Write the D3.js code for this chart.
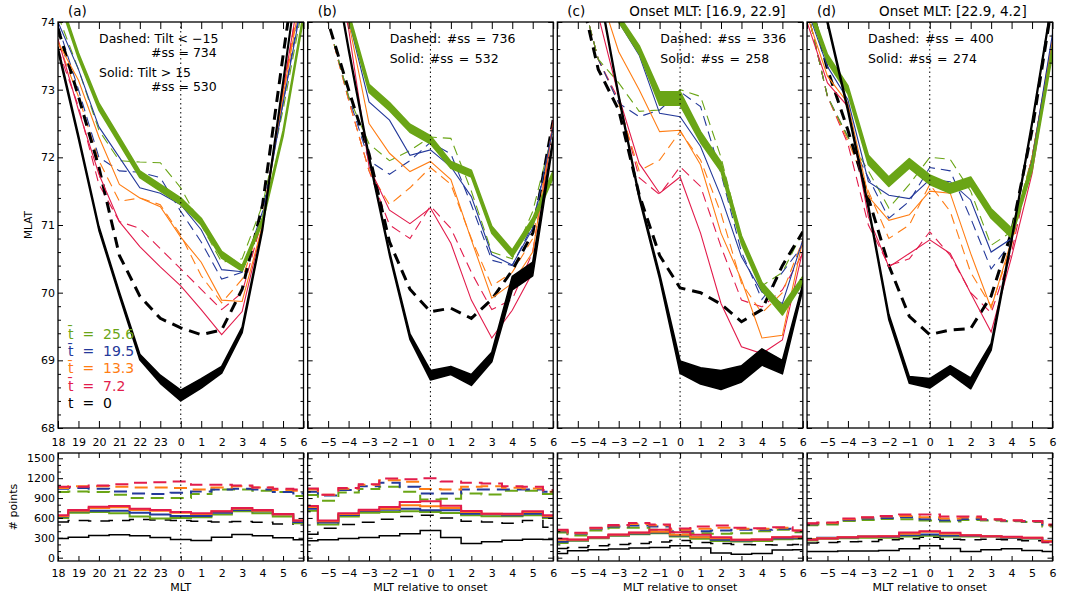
<!DOCTYPE html>
<html>
<head>
<meta charset="utf-8">
<script src="https://cdn.jsdelivr.net/npm/d3@7"></script>
<style>
  body { margin: 0; background: #fff; }
  text { font-family: "DejaVu Sans", sans-serif; fill: #000; }
</style>
</head>
<body>
<svg id="chart" width="1070" height="602"></svg>
<script>
// ---- data ----
// hour positions (MLT for panel a = 18..6, MLT relative to onset for b-d)
const hours = [-6, -5, -4, -3, -2, -1, 0, 1, 2, 3, 4, 5, 6];
const mltLabels = ['18', '19', '20', '21', '22', '23', '0', '1', '2', '3', '4', '5', '6'];
// time levels, order used by every series below: t=0, 7.2, 13.3, 19.5, 25.6
const tLabels = ['0', '7.2', '13.3', '19.5', '25.6'];
const panelTags = ['(a)', '(b)', '(c)', '(d)'];
const onsetTitles = ['', '', 'Onset MLT: [16.9, 22.9]', 'Onset MLT: [22.9, 4.2]'];
const notesA = ['Dashed: Tilt < \u221215', '#ss = 734', 'Solid: Tilt > 15', '#ss = 530'];
const notesB = ['Dashed: #ss = 736', 'Solid: #ss = 532'];
const notesC = ['Dashed: #ss = 336', 'Solid: #ss = 258'];
const notesD = ['Dashed: #ss = 400', 'Solid: #ss = 274'];

// MLAT of boundary, solid = tilt > 15 / solid, dashed = tilt < -15 / dashed
const latSolidA = [
  [73.6, 72.3, 70.95, 69.98, 69.05, 68.72, 68.48, 68.66, 68.86, 69.45, 70.95, 73.1, 75.3],
  [73.75, 72.7, 71.75, 71.05, 70.68, 70.38, 70.1, 69.75, 69.38, 69.72, 71.0, 73.0, 74.8],
  [73.7, 73.14, 72.3, 71.6, 71.4, 71.27, 70.82, 70.45, 69.89, 69.87, 71.0, 72.9, 74.6],
  [74.0, 73.3, 72.45, 72.0, 71.55, 71.47, 71.3, 70.93, 70.34, 70.31, 71.1, 72.8, 74.4],
  [74.4, 73.5, 72.75, 72.25, 71.75, 71.55, 71.35, 71.05, 70.56, 70.36, 71.07, 72.35, 74.1]
];
const latDashA = [
  [73.9, 72.9, 71.85, 70.55, 69.95, 69.62, 69.48, 69.38, 69.45, 70.05, 71.3, 73.5, 75.6],
  [73.6, 72.75, 71.6, 71.05, 70.95, 70.65, 70.35, 70.05, 69.75, 70.0, 71.1, 72.95, 74.8],
  [73.7, 72.9, 71.95, 71.35, 71.4, 71.3, 70.85, 70.25, 69.85, 70.2, 71.1, 72.9, 74.7],
  [73.95, 73.0, 72.0, 71.8, 71.78, 71.7, 71.2, 70.75, 70.2, 70.3, 71.2, 72.8, 74.5],
  [74.1, 73.3, 72.4, 71.95, 71.93, 71.92, 71.55, 71.0, 70.45, 70.5, 71.3, 72.7, 74.3]
];
const errBlackA = [0.03, 0.03, 0.03, 0.03, 0.04, 0.06, 0.08, 0.07, 0.05, 0.04, 0.03, 0.03, 0.03];
const errGreenA = [0.04, 0.04, 0.05, 0.05, 0.05, 0.05, 0.05, 0.05, 0.05, 0.04, 0.04, 0.04, 0.04];

const latSolidB = [
  [77, 75.3, 73.6, 72.0, 70.58, 69.35, 68.78, 68.85, 68.71, 69.05, 70.14, 70.35, 72.26],
  [77, 75.3, 73.9, 71.86, 71.22, 71.02, 71.25, 70.73, 69.89, 69.33, 69.74, 70.3, 72.55],
  [77, 75.3, 74.0, 72.5, 72.06, 71.79, 71.94, 71.67, 70.78, 69.92, 70.14, 70.6, 72.5],
  [77, 75.4, 74.05, 72.82, 72.55, 72.03, 72.11, 71.86, 71.42, 70.56, 70.41, 70.95, 72.45],
  [77, 75.5, 74.1, 73.02, 72.75, 72.43, 72.26, 71.89, 71.76, 70.93, 70.58, 71.05, 71.75]
];
const latDashB = [
  [76, 74.0, 73.0, 72.05, 70.75, 70.05, 69.72, 69.77, 69.62, 69.9, 70.33, 70.88, 72.55],
  [76, 74.0, 72.85, 71.8, 71.0, 70.8, 71.28, 70.95, 70.3, 69.75, 69.9, 70.6, 72.5],
  [76, 74.0, 72.85, 71.8, 71.3, 71.55, 71.85, 71.6, 70.8, 70.1, 70.3, 70.8, 72.5],
  [76, 74.0, 72.9, 71.95, 71.75, 71.95, 72.22, 72.05, 71.3, 70.48, 70.4, 71.0, 72.45],
  [76, 74.0, 72.9, 72.2, 71.95, 72.1, 72.3, 72.28, 71.5, 70.6, 70.5, 71.2, 72.4]
];
const errBlackB = [0.03, 0.03, 0.03, 0.03, 0.03, 0.04, 0.07, 0.06, 0.08, 0.07, 0.1, 0.1, 0.04];
const errGreenB = [0.05, 0.05, 0.05, 0.06, 0.06, 0.06, 0.06, 0.05, 0.05, 0.05, 0.05, 0.05, 0.05];

const latSolidC = [
  [77, 75.8, 74.55, 72.9, 71.42, 70.24, 68.9, 68.77, 68.71, 68.8, 69.05, 68.9, 70.09],
  [77, 75.3, 74.1, 72.9, 71.91, 71.47, 71.71, 70.88, 69.84, 69.2, 69.1, 69.3, 70.63],
  [77, 75.5, 74.5, 73.56, 73.0, 72.38, 72.4, 71.89, 70.88, 70.19, 69.33, 69.37, 70.78],
  [77, 75.6, 74.8, 74.0, 73.51, 72.65, 72.6, 72.16, 71.42, 70.53, 70.01, 69.84, 70.78],
  [77, 75.8, 74.9, 74.05, 73.59, 72.87, 72.87, 72.3, 71.86, 70.78, 70.09, 69.74, 70.19]
];
const latDashC = [
  [76.5, 74.6, 73.3, 72.7, 71.45, 70.55, 70.07, 70.0, 69.83, 69.57, 69.75, 70.4, 70.9],
  [76.5, 74.6, 73.45, 72.85, 71.7, 71.45, 71.86, 71.57, 70.68, 69.89, 69.79, 70.04, 70.58],
  [76.5, 74.6, 73.45, 72.8, 71.8, 71.96, 72.38, 71.96, 71.17, 70.14, 69.7, 70.0, 70.78],
  [76.5, 74.6, 73.45, 72.8, 72.6, 72.7, 72.97, 72.75, 71.76, 70.6, 69.9, 70.3, 70.7],
  [76.5, 74.6, 73.45, 73.1, 72.68, 72.7, 73.0, 72.9, 72.0, 70.8, 70.1, 70.3, 70.9]
];
const errBlackC = [0.03, 0.03, 0.03, 0.03, 0.03, 0.04, 0.09, 0.12, 0.14, 0.12, 0.12, 0.1, 0.04];
const errGreenC = [0.05, 0.05, 0.05, 0.05, 0.06, 0.1, 0.1, 0.08, 0.07, 0.06, 0.06, 0.07, 0.05];

const latSolidD = [
  [75.3, 74.0, 72.7, 71.27, 69.64, 68.71, 68.66, 68.86, 68.66, 69.2, 70.78, 72.5, 74.35],
  [74.0, 73.1, 72.75, 71.12, 70.38, 70.58, 70.78, 70.58, 69.99, 69.42, 70.53, 71.76, 73.68],
  [74.1, 73.2, 72.8, 71.42, 71.07, 71.15, 71.5, 71.47, 70.58, 69.77, 70.78, 72.0, 73.76],
  [74.2, 73.34, 72.85, 71.64, 71.44, 71.39, 71.67, 71.64, 71.37, 70.6, 70.8, 71.96, 73.83],
  [74.3, 73.46, 73.0, 71.96, 71.64, 71.91, 71.67, 71.54, 71.64, 71.17, 70.88, 71.86, 73.59]
];
const latDashD = [
  [74.5, 73.3, 72.4, 71.4, 70.4, 69.65, 69.38, 69.45, 69.47, 69.95, 70.9, 72.4, 74.3],
  [74.2, 72.9, 72.2, 71.0, 70.4, 70.5, 70.9, 70.55, 70.0, 69.7, 70.6, 72.0, 73.7],
  [74.2, 72.9, 72.25, 71.5, 70.8, 71.0, 71.6, 71.2, 70.3, 69.8, 70.7, 72.0, 73.7],
  [74.2, 72.9, 72.3, 71.7, 71.1, 71.35, 71.85, 71.8, 71.1, 70.35, 70.75, 72.0, 73.7],
  [74.2, 72.9, 72.3, 71.8, 71.25, 71.6, 72.0, 71.97, 71.5, 70.7, 70.9, 72.0, 73.7]
];
const errBlackD = [0.03, 0.03, 0.03, 0.03, 0.04, 0.05, 0.07, 0.06, 0.08, 0.05, 0.03, 0.03, 0.03];
const errGreenD = [0.06, 0.06, 0.06, 0.07, 0.07, 0.07, 0.07, 0.07, 0.07, 0.07, 0.07, 0.06, 0.06];

// number of points per hour bin
const cntSolidA = [
  [290, 310, 335, 345, 330, 305, 275, 260, 310, 350, 330, 300, 270],
  [640, 720, 770, 780, 740, 720, 690, 670, 700, 750, 720, 660, 560],
  [630, 710, 750, 760, 720, 710, 680, 660, 700, 740, 710, 650, 560],
  [620, 700, 710, 710, 680, 650, 630, 630, 680, 720, 700, 650, 540],
  [600, 680, 690, 670, 620, 590, 600, 610, 650, 700, 670, 620, 520]
];
const cntDashA = [
  [540, 560, 555, 560, 575, 570, 560, 550, 540, 545, 535, 510, 520],
  [1070, 1070, 1090, 1110, 1130, 1140, 1150, 1100, 1100, 1090, 1060, 1040, 1030],
  [1050, 1080, 1080, 1070, 1060, 1060, 1050, 1030, 1060, 1080, 1060, 1020, 1010],
  [1040, 1050, 1040, 1000, 970, 960, 980, 1000, 1030, 1040, 1030, 990, 970],
  [990, 1000, 990, 950, 900, 900, 900, 960, 1030, 1030, 1010, 990, 930]
];
const cntSolidB = [
  [255, 270, 290, 305, 330, 360, 410, 305, 215, 240, 265, 280, 275],
  [780, 560, 670, 725, 765, 840, 850, 785, 705, 665, 665, 700, 640],
  [765, 550, 660, 715, 740, 790, 775, 750, 690, 665, 655, 690, 625],
  [740, 530, 645, 705, 725, 740, 715, 715, 665, 655, 640, 665, 615],
  [710, 500, 620, 680, 690, 700, 690, 675, 640, 625, 625, 640, 600]
];
const cntDashB = [
  [355, 445, 500, 535, 580, 620, 640, 600, 550, 540, 520, 560, 460],
  [1045, 950, 1050, 1110, 1195, 1185, 1200, 1150, 1130, 1120, 1080, 1070, 1020],
  [1030, 950, 1040, 1100, 1170, 1145, 1035, 1030, 1070, 1080, 1055, 1045, 995],
  [995, 940, 1020, 1080, 1130, 1070, 970, 970, 1030, 1030, 1030, 1030, 995],
  [945, 860, 985, 1035, 1070, 995, 880, 890, 970, 955, 1010, 1010, 960]
];
const cntSolidC = [
  [65, 105, 120, 130, 145, 155, 180, 145, 70, 50, 65, 115, 120],
  [285, 275, 310, 350, 380, 420, 385, 345, 310, 270, 275, 310, 320],
  [270, 270, 305, 345, 375, 390, 345, 310, 295, 270, 275, 310, 310],
  [240, 265, 300, 340, 365, 380, 335, 310, 270, 260, 270, 295, 295],
  [220, 255, 295, 330, 355, 370, 320, 285, 250, 245, 250, 280, 285]
];
const cntDashC = [
  [140, 155, 180, 200, 215, 235, 260, 230, 215, 200, 195, 190, 200],
  [420, 375, 450, 495, 525, 500, 440, 470, 485, 450, 445, 460, 410],
  [410, 370, 445, 485, 510, 490, 420, 435, 450, 435, 435, 450, 410],
  [400, 360, 435, 470, 485, 470, 400, 400, 410, 420, 420, 435, 400],
  [380, 335, 410, 450, 450, 420, 380, 370, 360, 370, 400, 420, 385]
];
const cntSolidD = [
  [95, 95, 100, 100, 110, 135, 180, 140, 95, 120, 135, 110, 95],
  [270, 290, 310, 320, 325, 380, 400, 375, 340, 325, 315, 300, 240],
  [280, 295, 310, 320, 325, 360, 390, 360, 340, 325, 310, 300, 250],
  [280, 300, 305, 320, 315, 340, 350, 335, 330, 325, 300, 295, 255],
  [260, 285, 295, 300, 300, 320, 330, 320, 320, 320, 300, 290, 250]
];
const cntDashD = [
  [220, 230, 240, 245, 270, 285, 310, 280, 270, 280, 270, 255, 230],
  [520, 530, 590, 610, 630, 650, 650, 620, 620, 580, 565, 555, 500],
  [515, 525, 580, 605, 620, 630, 610, 590, 605, 575, 560, 550, 490],
  [505, 520, 570, 590, 600, 610, 580, 565, 585, 570, 555, 545, 485],
  [490, 500, 555, 570, 585, 580, 560, 545, 570, 560, 550, 540, 470]
];

// ---- layout ----
const svg = d3.select('#chart');
const colors = ['#000000', '#e21c4c', '#ff7d14', '#24399a', '#6aa516'];
const panelW = 245.5;
const panelStep = 249.67;
const topBox = { y0: 22, y1: 428 };
const botBox = { y0: 453, y1: 561 };

const yLat = d3.scaleLinear().domain([68, 74]).range([topBox.y1, topBox.y0]);
const yCnt = d3.scaleLinear().domain([-50, 1580]).range([botBox.y1, botBox.y0]);

const panels = [
  { lat: latSolidA, dash: latDashA, eb: errBlackA, eg: errGreenA, cs: cntSolidA, cd: cntDashA, notes: notesA },
  { lat: latSolidB, dash: latDashB, eb: errBlackB, eg: errGreenB, cs: cntSolidB, cd: cntDashB, notes: notesB },
  { lat: latSolidC, dash: latDashC, eb: errBlackC, eg: errGreenC, cs: cntSolidC, cd: cntDashC, notes: notesC },
  { lat: latSolidD, dash: latDashD, eb: errBlackD, eg: errGreenD, cs: cntSolidD, cd: cntDashD, notes: notesD }
];

const defs = svg.append('defs');

const relFormat = h => h === -6 ? '' : (h < 0 ? '\u2212' + (-h) : String(h));

// axis helper: drop the domain path, set the tick font
const addAxis = (axis, tx, ty) => {
  const g = svg.append('g').attr('transform', 'translate(' + tx + ',' + ty + ')').call(axis);
  g.select('.domain').remove();
  g.selectAll('text').style('font-size', '11px').style('font-family', '"DejaVu Sans", sans-serif');
  return g;
};

panels.forEach((p, i) => {
  const left = 58 + i * panelStep;
  const x = d3.scaleLinear().domain([-6, 6]).range([left, left + panelW]);
  const xFormat = i === 0 ? (h => mltLabels[hours.indexOf(h)]) : relFormat;

  // clip regions
  defs.append('clipPath').attr('id', 'clipT' + i)
    .append('rect').attr('x', left).attr('y', topBox.y0)
    .attr('width', panelW).attr('height', topBox.y1 - topBox.y0);
  defs.append('clipPath').attr('id', 'clipB' + i)
    .append('rect').attr('x', left).attr('y', botBox.y0)
    .attr('width', panelW).attr('height', botBox.y1 - botBox.y0);

  // ---------- top panel: boundary latitude ----------
  const gt = svg.append('g').attr('clip-path', 'url(#clipT' + i + ')');
  const line = d3.line().x((v, j) => x(hours[j])).y(v => yLat(v));

  // dashed colored, then black dashed
  [1, 2, 3, 4].forEach(k => {
    gt.append('path').attr('d', line(p.dash[k]))
      .attr('fill', 'none').attr('stroke', colors[k])
      .attr('stroke-width', 1.1).attr('stroke-dasharray', '10,6');
  });
  gt.append('path').attr('d', line(p.dash[0]))
    .attr('fill', 'none').attr('stroke', '#000')
    .attr('stroke-width', 3).attr('stroke-dasharray', '11,7');

  // thin solid lines
  [1, 2, 3].forEach(k => {
    gt.append('path').attr('d', line(p.lat[k]))
      .attr('fill', 'none').attr('stroke', colors[k])
      .attr('stroke-width', 1.1);
  });

  // bands for t=25.6 and t=0
  const band = d3.area()
    .x(d => x(d.h))
    .y0(d => yLat(d.v - d.e))
    .y1(d => yLat(d.v + d.e));
  [[4, p.eg], [0, p.eb]].forEach(([k, err]) => {
    const rows = hours.map((h, j) => ({ h: h, v: p.lat[k][j], e: err[j] }));
    gt.append('path').attr('d', band(rows))
      .attr('fill', colors[k]).attr('stroke', colors[k])
      .attr('stroke-width', 1.6).attr('stroke-linejoin', 'round');
  });

  // dotted zero line
  svg.append('line')
    .attr('x1', x(0)).attr('x2', x(0))
    .attr('y1', topBox.y0).attr('y2', topBox.y1)
    .attr('stroke', '#000').attr('stroke-width', 1).attr('stroke-dasharray', '1.5,3');

  // axes, ticks pointing inward
  addAxis(d3.axisBottom(x).tickValues(hours).tickSize(-7).tickPadding(10).tickFormat(xFormat), 0, topBox.y1);
  addAxis(d3.axisTop(x).tickValues(hours).tickSize(-7).tickFormat(''), 0, topBox.y0);
  const latMajor = d3.range(68, 74.01, 1);
  const latMinor = d3.range(68, 74.01, 0.2).filter(v => Math.abs(v - Math.round(v)) > 0.01);
  addAxis(d3.axisLeft(yLat).tickValues(latMajor).tickSize(-5).tickPadding(3)
    .tickFormat(i === 0 ? d3.format('d') : ''), left, 0);
  addAxis(d3.axisLeft(yLat).tickValues(latMinor).tickSize(-3).tickFormat(''), left, 0);
  addAxis(d3.axisRight(yLat).tickValues(latMajor).tickSize(-5).tickFormat(''), left + panelW, 0);
  addAxis(d3.axisRight(yLat).tickValues(latMinor).tickSize(-3).tickFormat(''), left + panelW, 0);

  svg.append('rect')
    .attr('x', left).attr('y', topBox.y0)
    .attr('width', panelW).attr('height', topBox.y1 - topBox.y0)
    .attr('fill', 'none').attr('stroke', '#000').attr('stroke-width', 1.3);

  // panel tag and title
  svg.append('text').attr('x', left + 10).attr('y', 16)
    .style('font-size', '13.5px').text(panelTags[i]);
  if (onsetTitles[i]) {
    svg.append('text').attr('x', left + 72).attr('y', 16)
      .style('font-size', '13.5px').text(onsetTitles[i]);
  }

  // notes
  if (i === 0) {
    const offs = [41, 93, 41, 93];
    const ys = [42.5, 57, 77, 91];
    p.notes.forEach((s, k) => {
      svg.append('text').attr('x', left + offs[k]).attr('y', ys[k])
        .style('font-size', '12.5px').text(s);
    });
  } else {
    const offs = [0, 82, 103, 61];
    p.notes.forEach((s, k) => {
      svg.append('text').attr('x', left + offs[i]).attr('y', 42.5 + k * 20)
        .style('font-size', '12.5px').style('word-spacing', '1.5px').text(s);
    });
  }

  // ---------- bottom panel: number of points ----------
  const gb = svg.append('g').attr('clip-path', 'url(#clipB' + i + ')');
  const step = d3.line().curve(d3.curveStep).x((v, j) => x(hours[j])).y(v => yCnt(v));

  gb.append('path').attr('d', step(p.cs[0]))
    .attr('fill', 'none').attr('stroke', '#000').attr('stroke-width', 1.5);
  gb.append('path').attr('d', step(p.cd[0]))
    .attr('fill', 'none').attr('stroke', '#000').attr('stroke-width', 1.5)
    .attr('stroke-dasharray', '13,9');
  [4, 3, 2, 1].forEach(k => {
    gb.append('path').attr('d', step(p.cs[k]))
      .attr('fill', 'none').attr('stroke', colors[k]).attr('stroke-width', 2);
    gb.append('path').attr('d', step(p.cd[k]))
      .attr('fill', 'none').attr('stroke', colors[k]).attr('stroke-width', 2)
      .attr('stroke-dasharray', '13,7');
  });

  svg.append('line')
    .attr('x1', x(0)).attr('x2', x(0))
    .attr('y1', botBox.y0).attr('y2', botBox.y1)
    .attr('stroke', '#000').attr('stroke-width', 1).attr('stroke-dasharray', '1.5,3');

  const cntMajor = d3.range(0, 1501, 300);
  const cntMinor = d3.range(0, 1501, 100).filter(v => v % 300 !== 0);
  addAxis(d3.axisBottom(x).tickValues(hours).tickSize(-5).tickPadding(8).tickFormat(xFormat), 0, botBox.y1);
  addAxis(d3.axisTop(x).tickValues(hours).tickSize(-5).tickFormat(''), 0, botBox.y0);
  addAxis(d3.axisLeft(yCnt).tickValues(cntMajor).tickSize(-5).tickPadding(3)
    .tickFormat(i === 0 ? d3.format('d') : ''), left, 0);
  addAxis(d3.axisLeft(yCnt).tickValues(cntMinor).tickSize(-3).tickFormat(''), left, 0);
  addAxis(d3.axisRight(yCnt).tickValues(cntMajor).tickSize(-5).tickFormat(''), left + panelW, 0);
  addAxis(d3.axisRight(yCnt).tickValues(cntMinor).tickSize(-3).tickFormat(''), left + panelW, 0);

  svg.append('rect')
    .attr('x', left).attr('y', botBox.y0)
    .attr('width', panelW).attr('height', botBox.y1 - botBox.y0)
    .attr('fill', 'none').attr('stroke', '#000').attr('stroke-width', 1.3);

  // x axis label
  svg.append('text')
    .attr('x', left + panelW / 2).attr('y', 591)
    .style('text-anchor', 'middle').style('font-size', '11px')
    .text(i === 0 ? 'MLT' : 'MLT relative to onset');
});

// legend in panel (a)
[4, 3, 2, 1, 0].forEach((k, r) => {
  svg.append('text')
    .attr('x', 68).attr('y', 339 + r * 17.2)
    .style('font-size', '14px')
    .style('white-space', 'pre')
    .style('fill', colors[k])
    .text((k === 0 ? 't' : 't\u0304') + '  =  ' + tLabels[k]);
});

// y axis labels
svg.append('text')
  .attr('transform', 'translate(32,225) rotate(-90)')
  .style('text-anchor', 'middle').style('font-size', '10.5px')
  .text('MLAT');
svg.append('text')
  .attr('transform', 'translate(17,507) rotate(-90)')
  .style('text-anchor', 'middle').style('font-size', '11px')
  .text('# points');
</script>
</body>
</html>
